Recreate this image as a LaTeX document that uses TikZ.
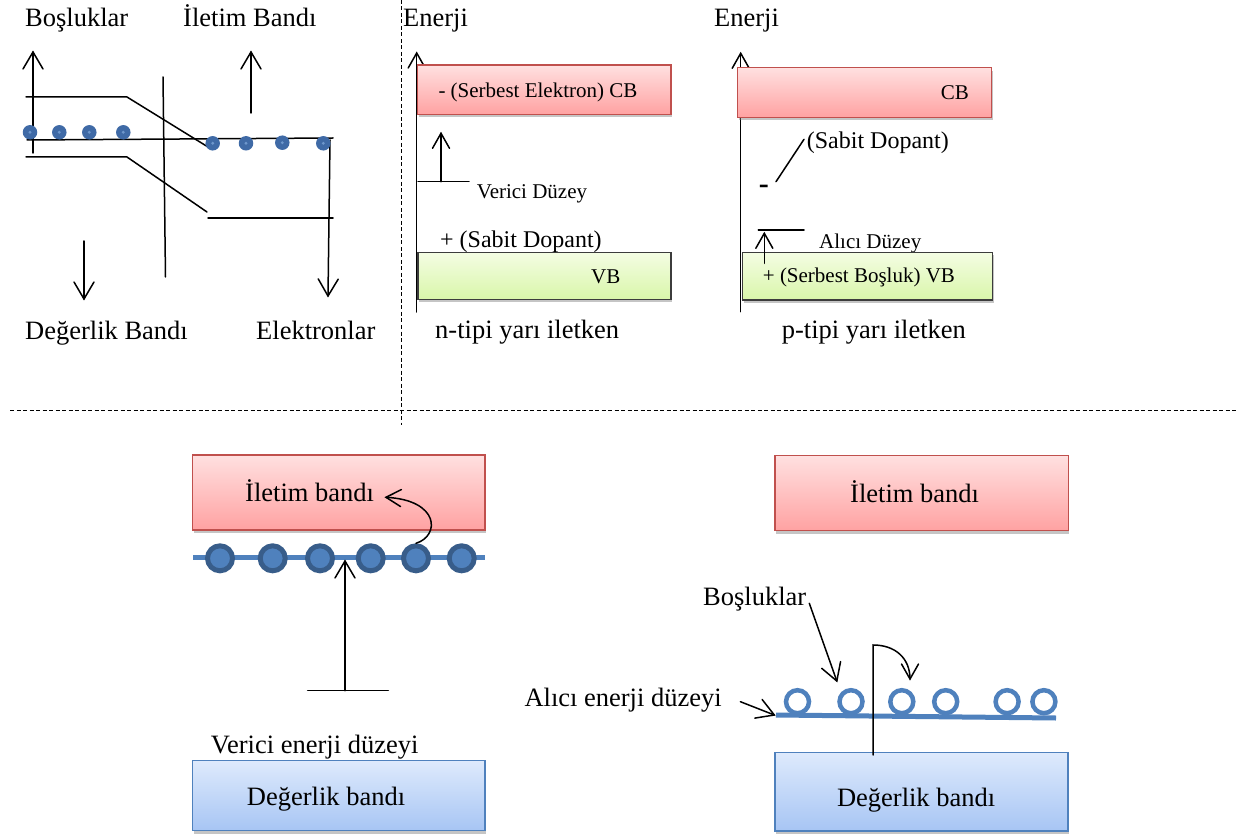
\documentclass[tikz,border=0pt]{standalone}
\usepackage{fontspec}
\setmainfont{Liberation Serif}
\usetikzlibrary{arrows.meta,shadows}

\definecolor{cbtop}{HTML}{FFE0E0}
\definecolor{cbbot}{HTML}{FFA2A2}
\definecolor{cbline}{HTML}{C0504D}
\definecolor{vbtop}{HTML}{F4FDE3}
\definecolor{vbbot}{HTML}{D9F6AA}
\definecolor{vbline}{HTML}{3C3C3C}
\definecolor{bltop}{HTML}{DEEAFC}
\definecolor{blbot}{HTML}{A7C5F4}
\definecolor{blline}{HTML}{4F81BD}
\definecolor{dotfill}{HTML}{4F81BD}
\definecolor{dotedge}{HTML}{385D8A}
\definecolor{smalldot}{HTML}{3F6AA6}
\definecolor{smallcore}{HTML}{6E97CC}

\newcommand{\fbig}{\fontsize{26.5}{30}\selectfont}
\newcommand{\fmid}{\fontsize{24}{28}\selectfont}
\newcommand{\fsmall}{\fontsize{21}{25}\selectfont}

% open chevron arrow tip made of two straight strokes
\pgfdeclarearrow{
  name = Chevron,
  parameters = {\the\pgfarrowlength,\the\pgfarrowwidth},
  setup code = {
    \pgfarrowssettipend{0pt}
    \pgfarrowssetlineend{0pt}
    \pgfarrowsupperhullpoint{-\pgfarrowlength}{.5\pgfarrowwidth}
    \pgfarrowshullpoint{0pt}{0pt}
    \pgfarrowssavethe\pgfarrowlength
    \pgfarrowssavethe\pgfarrowwidth
  },
  drawing code = {
    \pgfsetdash{}{0pt}
    \pgfsetroundcap
    \pgfsetmiterjoin
    \pgfpathmoveto{\pgfqpoint{-\pgfarrowlength}{.5\pgfarrowwidth}}
    \pgfpathlineto{\pgfpointorigin}
    \pgfpathlineto{\pgfqpoint{-\pgfarrowlength}{-.5\pgfarrowwidth}}
    \pgfusepathqstroke
  },
  defaults = {length=17pt, width=19pt}
}

\begin{document}
\begin{tikzpicture}[x=1pt,y=-1pt,
  lbl/.style={inner sep=0pt, anchor=base west, font=\fbig},
  lblmid/.style={lbl, font=\fmid},
  lblsmall/.style={lbl, font=\fsmall},
  bandbox/.style={rectangle, inner sep=0pt, line width=1.3pt,
    drop shadow={opacity=0.45, shadow xshift=1pt, shadow yshift=-3pt}},
  cbbox/.style={bandbox, draw=cbline, top color=cbtop, bottom color=cbbot},
  vbbox/.style={bandbox, draw=vbline, top color=vbtop, bottom color=vbbot},
  blbox/.style={bandbox, draw=blline, top color=bltop, bottom color=blbot},
  thin line/.style={line width=1.5pt, line cap=round},
  arr/.style={thin line, -{Chevron[length=17pt,width=20pt]}},
  arrsm/.style={thin line, -{Chevron[length=15pt,width=17pt]}},
  sep/.style={line width=0.9pt, dash pattern=on 4pt off 2.5pt},
  fulldot/.style={circle, inner sep=0pt, minimum size=25pt, fill=dotfill, draw=dotedge, line width=5pt},
  hole/.style={circle, inner sep=0pt, minimum size=23pt, fill=white, draw=blline, line width=4.5pt},
  smalld/.style={circle, inner sep=0pt, minimum size=14.5pt, fill=smalldot},
  blueline/.style={line width=5pt, draw=blline}
]
\useasboundingbox (0,0) rectangle (1239,834);
\fill[white] (0,0) rectangle (1239,834);

% ---------- separators ----------
\coordinate (sepVt) at (401,0);
\coordinate (sepVb) at (401,425);
\coordinate (sepHl) at (10,410);
\coordinate (sepHr) at (1237,410);
\draw[sep] (sepVt) -- (sepVb);
\draw[sep] (sepHl) -- (sepHr);

% ---------- p-n junction band diagram ----------
\node[lbl] (tBos) at (25,26.7) {Boşluklar};
\node[lbl] (tIlet) at (183,26.7) {İletim Bandı};
\node[lbl] (tDeg) at (25,339) {Değerlik Bandı};
\node[lbl] (tElek) at (256,339) {Elektronlar};

\coordinate (cb1) at (26,97);   \coordinate (cb2) at (127,97);  \coordinate (cb3) at (208,147);
\coordinate (vb1) at (26,157);  \coordinate (vb2) at (127,157); \coordinate (vb3) at (207,212);
\coordinate (vb4) at (208,218); \coordinate (vb5) at (333,218);
\coordinate (ef1) at (27,140);  \coordinate (ef2) at (333,138);
\coordinate (jn1) at (163,77);  \coordinate (jn2) at (165.5,277);
\draw[thin line] (cb1) -- (cb2) -- (cb3);
\draw[thin line] (vb1) -- (vb2) -- (vb3);
\draw[thin line] (vb4) -- (vb5);
\draw[thin line] (ef1) -- (ef2);
\draw[thin line] (jn1) -- (jn2);

\coordinate (hA0) at (33,153);  \coordinate (hA1) at (33,52);
\coordinate (eA0) at (251,113); \coordinate (eA1) at (251,52);
\coordinate (dA0) at (84,241);  \coordinate (dA1) at (84,299);
\coordinate (rA0) at (330,140); \coordinate (rA1) at (328,296);
\draw[arr] (hA0) -- (hA1);
\draw[arr] (eA0) -- (eA1);
\draw[arr] (dA0) -- (dA1);
\draw[arr] (rA0) -- (rA1);

\foreach \i/\x/\y in {1/30/132.3, 2/59.3/132.3, 3/89.3/132.3, 4/123.3/132.3,
                      5/212.7/143.3, 6/246/143.3, 7/282.3/142.7, 8/323.3/143.3}{
  \node[smalld] (sd\i) at (\x,\y) {};
  \fill[smallcore] (sd\i) circle (1.6);
}

% ---------- n-type ----------
\coordinate (nAx0) at (416.7,312);
\coordinate (nAx1) at (416.7,53);
\draw[arrsm] (nAx0) -- (nAx1);
\node[lbl] (nEn) at (403,27) {Enerji};
\node[cbbox, minimum width=253.3pt, minimum height=49.3pt] (nCB) at (544.3,89.7) {};
\node[lblsmall] (nCBt) at (438.3,98) {- (Serbest Elektron) CB};
\coordinate (nDl0) at (418,181.7); \coordinate (nDl1) at (469,181.7);
\coordinate (nDa1) at (441,133.3); \coordinate (nDa0) at (441,181.7);
\draw[thin line] (nDl0) -- (nDl1);
\draw[arrsm] (nDa0) -- (nDa1);
\node[lblsmall] (nVer) at (476.7,198.3) {Verici Düzey};
\node[lblmid] (nSab) at (440,247.5) {+ (Sabit Dopant)};
\node[vbbox, minimum width=253pt, minimum height=47pt] (nVB) at (544.5,275.8) {};
\node[lblsmall] (nVBt) at (591,283.3) {VB};
\node[lbl] (nTit) at (435,338.3) {n-tipi yarı iletken};

% ---------- p-type ----------
\coordinate (pAx0) at (740.7,311.7);
\coordinate (pAx1) at (740.7,53.3);
\draw[arrsm] (pAx0) -- (pAx1);
\node[lbl] (pEn) at (714,27) {Enerji};
\node[cbbox, minimum width=254pt, minimum height=49.6pt] (pCB) at (864.7,92.5) {};
\node[lblsmall] (pCBt) at (940.7,100) {CB};
\node[lblmid] (pSab) at (806.7,148.3) {(Sabit Dopant)};
\coordinate (pSl0) at (776,181.7); \coordinate (pSl1) at (804,139.3);
\draw[thin line] (pSl0) -- (pSl1);
\node[inner sep=0pt, font=\fontsize{30}{34}\selectfont\bfseries] (pMin) at (763.8,189) {-};
\coordinate (pAl0) at (758.3,230); \coordinate (pAl1) at (804,230);
\draw[thin line] (pAl0) -- (pAl1);
\node[lblsmall] (pAlc) at (819,248.3) {Alıcı Düzey};
\node[vbbox, minimum width=250pt, minimum height=47.7pt] (pVB) at (867.7,276.2) {};
\coordinate (pUa0) at (764.3,263.3); \coordinate (pUa1) at (764.3,233.3);
\draw[arrsm] (pUa0) -- (pUa1);
\node[lblsmall] (pVBt) at (762.7,282.7) {+ (Serbest Boşluk) VB};
\node[lbl] (pTit) at (781.7,338.3) {p-tipi yarı iletken};

% ---------- donor level (bottom left) ----------
\node[cbbox, minimum width=292.3pt, minimum height=75pt] (dCB) at (338.85,492.5) {};
\node[lbl] (dCBt) at (245,501.7) {İletim bandı};
\coordinate (dL0) at (193.3,557.3); \coordinate (dL1) at (485,557.3);
\draw[blueline] (dL0) -- (dL1);
\foreach \i/\x in {1/220, 2/272.7, 3/320, 4/370.7, 5/416, 6/461.7}{
  \node[fulldot] (dd\i) at (\x,558.3) {};
}
\coordinate (dH0) at (307.7,690.7); \coordinate (dH1) at (388.3,690.7);
\coordinate (dU0) at (345,690.7);   \coordinate (dU1) at (345,561);
\draw[thin line] (dH0) -- (dH1);
\draw[arr] (dU0) -- (dU1);
\coordinate (dJ) at (386,497.3);
\draw[arrsm] (dd5.north) .. controls (440,536) and (440,500) .. (dJ);
\node[lbl] (dVer) at (210.7,753.3) {Verici enerji düzeyi};
\node[blbox, minimum width=292.3pt, minimum height=70pt] (dVB) at (338.85,795.7) {};
\node[lbl] (dVBt) at (246.7,805) {Değerlik bandı};

% ---------- acceptor level (bottom right) ----------
\node[cbbox, minimum width=293.3pt, minimum height=75pt] (aCB) at (921.7,493.2) {};
\node[lbl] (aCBt) at (850,502.7) {İletim bandı};
\node[blbox, minimum width=293pt, minimum height=78.7pt] (aVB) at (921.5,791.7) {};
\node[lbl] (aVBt) at (836.8,806.7) {Değerlik bandı};
\coordinate (aL0) at (776,715); \coordinate (aL1) at (1056,718);
\draw[blueline] (aL0) -- (aL1);
\foreach \i/\x in {1/797.5, 2/851, 3/901.8, 4/945.7, 5/1007.1, 6/1043.9}{
  \node[hole] (ah\i) at (\x,701.7) {};
}
\node[lbl] (aBos) at (703,605) {Boşluklar};
\node[lbl] (aAlc) at (524.3,706.7) {Alıcı enerji düzeyi};
\coordinate (aB0) at (809.3,603.3); \coordinate (aB1) at (836.8,681);
\draw[arr] (aB0) -- (aB1);
\coordinate (aA0) at (740.4,701.7); \coordinate (aA1) at (774.3,715);
\draw[arr] (aA0) -- (aA1);
\coordinate (aV0) at (873.2,755); \coordinate (aV1) at (873.2,645);
\coordinate (aV2) at (910,679);
\draw[arrsm] (aV0) -- (aV1) .. controls (895,645) and (910,658) .. (aV2);
\end{tikzpicture}
\end{document}
